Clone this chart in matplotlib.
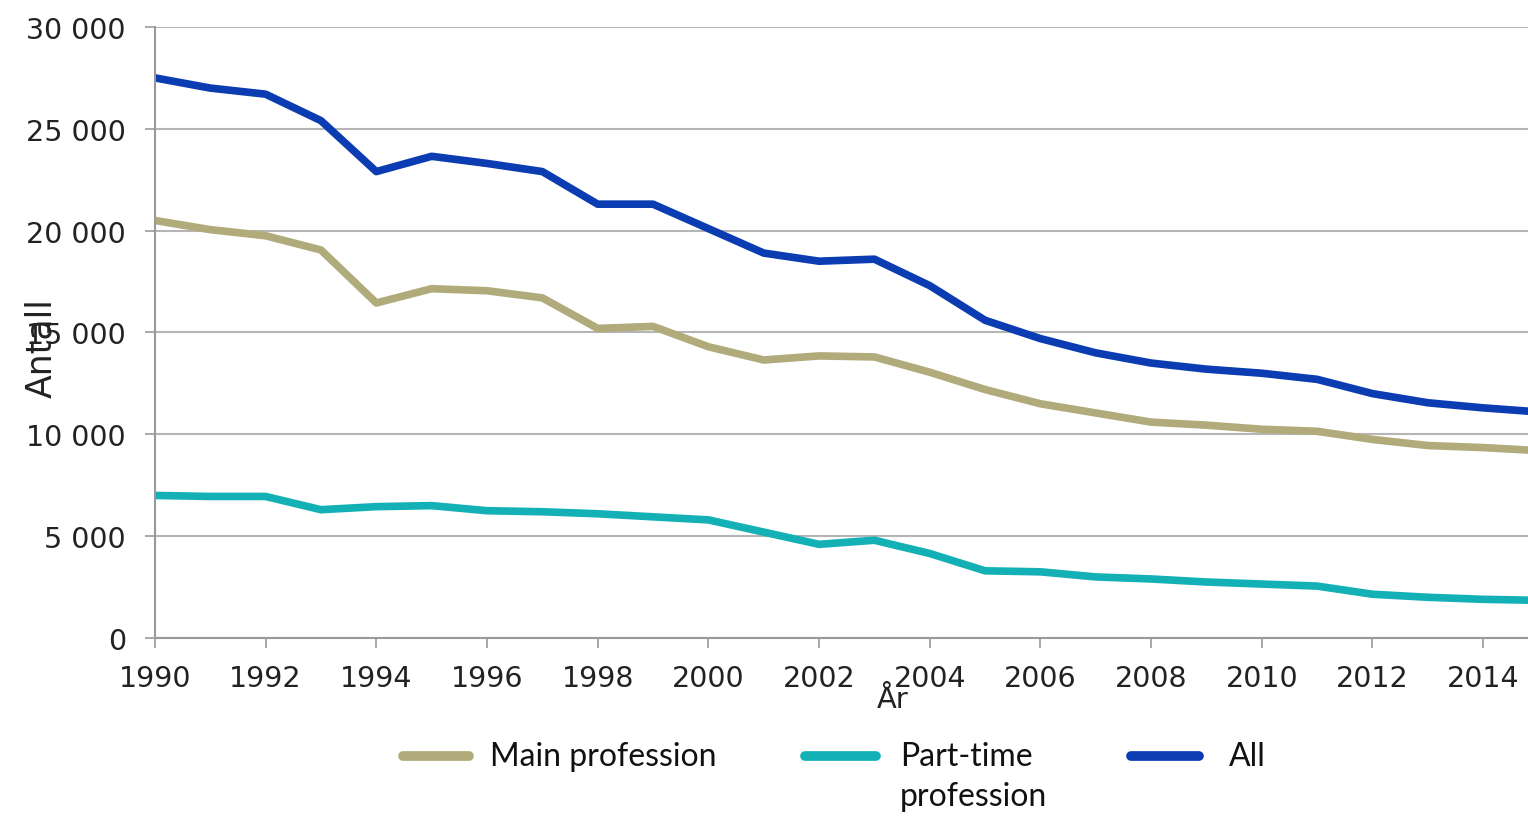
import numpy as np
import matplotlib.pyplot as plt
from matplotlib.lines import Line2D

years = list(range(1990, 2016))

main_prof = [20500, 20050, 19750, 19050, 16450, 17150, 17050, 16700, 15200, 15300,
             14300, 13650, 13850, 13800, 13050, 12200, 11500, 11050, 10600, 10450,
             10250, 10150, 9750, 9450, 9350, 9200]
part_time = [7000, 6950, 6950, 6300, 6450, 6500, 6250, 6200, 6100, 5950,
             5800, 5200, 4600, 4800, 4150, 3300, 3250, 3000, 2900, 2750,
             2650, 2550, 2150, 2000, 1900, 1850]
all_prof = [27500, 27000, 26700, 25400, 22900, 23650, 23300, 22900, 21300, 21300,
            20100, 18900, 18500, 18600, 17300, 15600, 14700, 14000, 13500, 13200,
            13000, 12700, 12000, 11550, 11300, 11100]

labels = ['Main profession', 'Part-time\nprofession', 'All']
colors = ['#b1ab7b', '#13b1b6', '#0b3cb2']

fig = plt.figure(figsize=(15.28, 8.2), dpi=100)
ax = fig.add_axes([0.1014, 0.2207, 0.8986, 0.7452])

for vals, col in zip([main_prof, part_time, all_prof], colors):
    ax.plot(years, vals, color=col, lw=5.5, solid_capstyle='butt')

ax.set_xlim(1990, 2014.81)
ax.set_ylim(0, 30000)
ax.set_xticks(range(1990, 2015, 2))
ax.set_yticks(range(0, 30001, 5000))
ax.set_yticklabels([f'{v:,}'.replace(',', ' ') for v in range(0, 30001, 5000)])
ax.tick_params(axis='both', labelsize=20.5, colors='#222222', direction='out',
               length=7, width=1.2, color='#999999')
ax.tick_params(axis='y', pad=14)
ax.tick_params(axis='x', pad=12)
ax.grid(axis='y', color='#b5b5b5', lw=1.5)
ax.set_axisbelow(True)
for s in ['top', 'right']:
    ax.spines[s].set_visible(False)
for s in ['left', 'bottom']:
    ax.spines[s].set_color('#999999')
    ax.spines[s].set_linewidth(1.5)

fig.text(0.027, 0.575, 'Antall', rotation=90, fontsize=25, ha='center', va='center', color='#222222')
fig.text(0.584, 0.146, 'År', fontsize=21, ha='center', va='center', color='#222222')

# legend drawn below the axes
handle_x = [(0.264, 0.307), (0.527, 0.573), (0.740, 0.785)]
text_x = [0.321, 0.589, 0.804]
for (x0, x1), tx, col, lab in zip(handle_x, text_x, colors, labels):
    fig.add_artist(Line2D([x0, x1], [0.077, 0.077], color=col, lw=7,
                          solid_capstyle='round', transform=fig.transFigure))
    fig.text(tx, 0.095, lab, fontsize=23, family='Lato', va='top', ha='left',
             color='#111111', linespacing=1.4)

fig.savefig('out.png', dpi=100)
